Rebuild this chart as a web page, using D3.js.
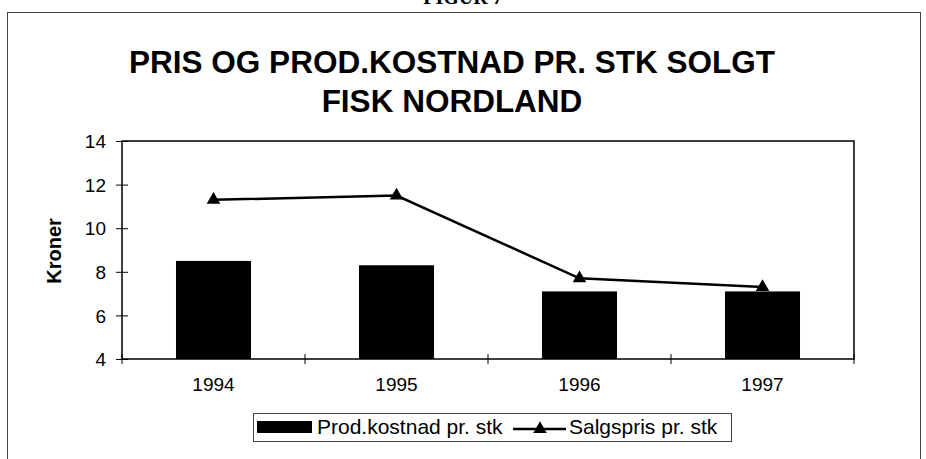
<!DOCTYPE html>
<html>
<head>
  <meta charset="utf-8">
  <script src="https://d3js.org/d3.v7.min.js"></script>
  <style>
    body { margin: 0; background: #fff; }
    svg { display: block; font-family: "Liberation Sans", Arial, sans-serif; }
    .tick text { font-size: 19px; fill: #000; }
    .tick line { stroke: #000; }
  </style>
</head>
<body>
  <svg id="chart" width="926" height="459"></svg>
  <script>
    // data
    const years = ["1994", "1995", "1996", "1997"];
    const prodKostnad = [8.5, 8.3, 7.1, 7.1];
    const salgspris = [11.3, 11.5, 7.7, 7.3];
    const yTicks = [4, 6, 8, 10, 12, 14];
    const titleLines = ["PRIS OG PROD.KOSTNAD PR. STK SOLGT", "FISK NORDLAND"];

    const svg = d3.select("#chart");
    const plot = { left: 122, right: 854, top: 141, bottom: 359 };

    // outer frame (bottom runs off the page)
    svg.append("rect")
      .attr("x", 7.5).attr("y", 12.5)
      .attr("width", 913).attr("height", 470)
      .attr("fill", "none").attr("stroke", "#444").attr("stroke-width", 1);

    // cut-off figure caption above the frame
    svg.append("text")
      .attr("x", 463).attr("y", 4)
      .attr("text-anchor", "middle")
      .style("font-family", "'Liberation Serif', serif")
      .style("font-weight", "bold").style("font-size", "20px")
      .text("FIGUR 7");

    // title
    svg.selectAll("text.title").data(titleLines)
      .join("text").attr("class", "title")
      .attr("x", 452)
      .attr("y", (d, i) => 73 + i * 39)
      .attr("text-anchor", "middle")
      .style("font-weight", "bold").style("font-size", "31.5px")
      .text(d => d);

    const x = d3.scaleBand().domain(years)
      .range([plot.left, plot.right])
      .paddingInner(0.59).paddingOuter(0.295);
    const y = d3.scaleLinear().domain([4, 14]).range([plot.bottom, plot.top]);

    // plot area border
    svg.append("rect")
      .attr("x", plot.left).attr("y", plot.top)
      .attr("width", plot.right - plot.left).attr("height", plot.bottom - plot.top)
      .attr("fill", "none").attr("stroke", "#000").attr("stroke-width", 1.5);

    // y axis
    const yAxis = svg.append("g")
      .attr("transform", `translate(${plot.left},0)`)
      .call(d3.axisLeft(y).tickValues(yTicks).tickSize(6).tickPadding(10));
    yAxis.select(".domain").remove();
    yAxis.selectAll(".tick line").attr("x1", -6).attr("x2", 6);
    yAxis.selectAll(".tick text").attr("dy", "0.35em");

    // x axis: ticks sit on category boundaries
    const xAxis = svg.append("g")
      .attr("transform", `translate(0,${plot.bottom})`)
      .call(d3.axisBottom(x).tickSize(0).tickPadding(19));
    xAxis.select(".domain").remove();
    const step = x.step();
    xAxis.selectAll("line.boundary")
      .data(d3.range(years.length + 1))
      .join("line").attr("class", "boundary")
      .attr("x1", i => plot.left + i * step).attr("x2", i => plot.left + i * step)
      .attr("y1", -5).attr("y2", 5)
      .attr("stroke", "#000");

    // y axis title
    svg.append("text")
      .attr("transform", "translate(61,251) rotate(-90)")
      .attr("text-anchor", "middle")
      .style("font-weight", "bold").style("font-size", "20px")
      .text("Kroner");

    // bars
    svg.selectAll("rect.bar").data(prodKostnad)
      .join("rect").attr("class", "bar")
      .attr("x", (d, i) => x(years[i]))
      .attr("y", d => y(d))
      .attr("width", x.bandwidth())
      .attr("height", d => y(4) - y(d))
      .attr("fill", "#000");

    // line with triangle markers
    const cx = i => x(years[i]) + x.bandwidth() / 2;
    const line = d3.line().x((d, i) => cx(i)).y(d => y(d));
    svg.append("path")
      .datum(salgspris)
      .attr("d", line)
      .attr("fill", "none").attr("stroke", "#000").attr("stroke-width", 2.5);

    const tri = d3.symbol().type(d3.symbolTriangle).size(80);
    svg.selectAll("path.marker").data(salgspris)
      .join("path").attr("class", "marker")
      .attr("transform", (d, i) => `translate(${cx(i)},${y(d)})`)
      .attr("d", tri)
      .attr("fill", "#000");

    // legend
    const legend = svg.append("g");
    legend.append("rect")
      .attr("x", 253.5).attr("y", 413.5).attr("width", 478).attr("height", 28)
      .attr("fill", "none").attr("stroke", "#444").attr("stroke-width", 1);
    legend.append("rect")
      .attr("x", 257).attr("y", 421).attr("width", 55).attr("height", 12)
      .attr("fill", "#000");
    legend.append("text")
      .attr("x", 317).attr("y", 434)
      .style("font-size", "21px")
      .text("Prod.kostnad pr. stk");
    legend.append("line")
      .attr("x1", 513).attr("x2", 566).attr("y1", 429).attr("y2", 429)
      .attr("stroke", "#000").attr("stroke-width", 2.5);
    legend.append("path")
      .attr("transform", "translate(540,429)")
      .attr("d", tri).attr("fill", "#000");
    legend.append("text")
      .attr("x", 569).attr("y", 434)
      .style("font-size", "21px")
      .text("Salgspris pr. stk");
  </script>
</body>
</html>
